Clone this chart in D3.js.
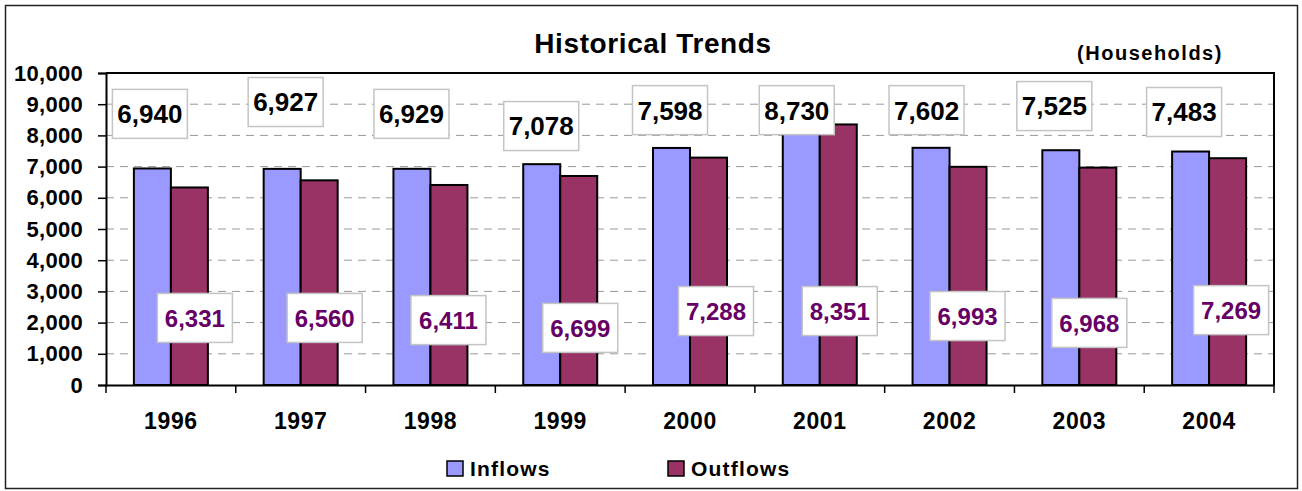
<!DOCTYPE html>
<html>
<head>
<meta charset="utf-8">
<script src="https://cdn.jsdelivr.net/npm/d3@7.9.0/dist/d3.min.js"></script>
<style>
  html, body { margin: 0; padding: 0; background: #fff; }
  svg { display: block; font-family: 'Liberation Sans', Arial, sans-serif; }
</style>
</head>
<body>
<div id="chart"></div>
<script>
const years = ['1996', '1997', '1998', '1999', '2000', '2001', '2002', '2003', '2004'];
const inflows = [6940, 6927, 6929, 7078, 7598, 8730, 7602, 7525, 7483];
const outflows = [6331, 6560, 6411, 6699, 7288, 8351, 6993, 6968, 7269];
const yTicks = [0, 1000, 2000, 3000, 4000, 5000, 6000, 7000, 8000, 9000, 10000];
const seriesNames = ['Inflows', 'Outflows'];

// where Excel left the dragged data labels: value height + px shift from category centre
const inLabelY = [8690, 9070, 8690, 8300, 8810, 8810, 8810, 8940, 8750];
const inLabelDx = [-21, -15, -19, -19, -20, -23, -23, -25, -25];
const outLabelY = [2150, 2150, 2080, 1830, 2370, 2370, 2210, 1990, 2400];
const outLabelDx = [24, 24, 18, 20, 26, 20, 18, 10, 22];

const width = 1302, height = 491;
const plot = { left: 106, right: 1274, top: 73, bottom: 385 };
const colors = { Inflows: '#9999ff', Outflows: '#993366' };
const font = "'Liberation Sans', Arial, sans-serif";

const svg = d3.select('#chart').append('svg')
  .attr('width', width)
  .attr('height', height);

// outer frame
svg.append('rect')
  .attr('x', 5.5).attr('y', 5.5)
  .attr('width', 1292).attr('height', 483)
  .attr('fill', '#fff')
  .attr('stroke', '#222').attr('stroke-width', 1.5);

const x0 = d3.scaleBand().domain(years).range([plot.left, plot.right]);
const bw = x0.bandwidth();
const barW = 37;
const x1 = d3.scaleBand().domain(seriesNames).range([bw / 2 - barW, bw / 2 + barW]);
const y = d3.scaleLinear().domain([0, 10000]).range([plot.bottom, plot.top]);

// gridlines
svg.append('g')
  .selectAll('line')
  .data(yTicks.filter(t => t > 0 && t < 10000))
  .join('line')
  .attr('x1', plot.left).attr('x2', plot.right)
  .attr('y1', d => y(d)).attr('y2', d => y(d))
  .attr('stroke', '#999').attr('stroke-width', 1)
  .attr('stroke-dasharray', '8,6');

// plot border top/right
svg.append('path')
  .attr('d', `M${plot.left},${plot.top}H${plot.right}V${plot.bottom}`)
  .attr('fill', 'none').attr('stroke', '#000').attr('stroke-width', 2);

// bars
const rows = years.map((yr, i) => ({ year: yr, Inflows: inflows[i], Outflows: outflows[i] }));
const groups = svg.append('g').selectAll('g')
  .data(rows)
  .join('g')
  .attr('transform', d => `translate(${x0(d.year)},0)`);

groups.selectAll('rect')
  .data(d => seriesNames.map(k => ({ key: k, value: d[k] })))
  .join('rect')
  .attr('x', d => x1(d.key))
  .attr('y', d => y(d.value))
  .attr('width', x1.bandwidth())
  .attr('height', d => y(0) - y(d.value))
  .attr('fill', d => colors[d.key])
  .attr('stroke', '#000').attr('stroke-width', 2);

// y axis
const yAxis = svg.append('g')
  .attr('transform', `translate(${plot.left},0)`)
  .call(d3.axisLeft(y).tickValues(yTicks).tickSize(8).tickPadding(15)
    .tickFormat(d3.format(',')));
yAxis.select('.domain').attr('stroke', '#000').attr('stroke-width', 2);
yAxis.selectAll('.tick line').attr('stroke', '#000').attr('stroke-width', 1.5);
yAxis.selectAll('.tick text')
  .attr('font-size', 22).attr('font-weight', 'bold').attr('fill', '#000')
  .attr('letter-spacing', 0.3)
  .attr('font-family', font);

// x axis
const xAxis = svg.append('g')
  .attr('transform', `translate(0,${plot.bottom})`)
  .call(d3.axisBottom(x0).tickSize(0));
xAxis.select('.domain').attr('stroke', '#000').attr('stroke-width', 2);
xAxis.selectAll('.tick text')
  .attr('y', 44).attr('dy', 0)
  .attr('font-size', 23).attr('font-weight', 'bold').attr('fill', '#000')
  .attr('letter-spacing', 0.6)
  .attr('font-family', font);
// category separator ticks
xAxis.append('g').selectAll('line')
  .data(years.concat(['end']))
  .join('line')
  .attr('x1', (d, i) => plot.left + i * bw).attr('x2', (d, i) => plot.left + i * bw)
  .attr('y1', 0).attr('y2', 8)
  .attr('stroke', '#000').attr('stroke-width', 1.5);

// data labels
function drawLabels(values, ys, dxs, color, size) {
  const g = svg.append('g').selectAll('g')
    .data(values)
    .join('g')
    .attr('transform', (d, i) =>
      `translate(${x0(years[i]) + bw / 2 + dxs[i]},${y(ys[i])})`);
  g.append('rect')
    .attr('x', -37.5).attr('y', -24.5)
    .attr('width', 75).attr('height', 49)
    .attr('fill', '#fff')
    .attr('stroke', '#c4c4c4').attr('stroke-width', 1.5);
  g.append('text')
    .attr('text-anchor', 'middle')
    .attr('dy', '0.36em')
    .attr('font-size', size).attr('font-weight', 'bold')
    .attr('fill', color)
    .text(d => d3.format(',')(d));
}
drawLabels(inflows, inLabelY, inLabelDx, '#000', 26);
drawLabels(outflows, outLabelY, outLabelDx, '#660066', 24);

// titles
svg.append('text')
  .attr('x', 653).attr('y', 53)
  .attr('text-anchor', 'middle')
  .attr('font-size', 28).attr('font-weight', 'bold')
  .attr('letter-spacing', 0.6)
  .text('Historical Trends');
svg.append('text')
  .attr('x', 1150).attr('y', 60)
  .attr('text-anchor', 'middle')
  .attr('font-size', 20).attr('font-weight', 'bold')
  .attr('letter-spacing', 1.5)
  .text('(Households)');

// legend
const legendX = [447, 668];
const legend = svg.append('g').selectAll('g')
  .data(seriesNames)
  .join('g')
  .attr('transform', (d, i) => `translate(${legendX[i]},461)`);
legend.append('rect')
  .attr('width', 16).attr('height', 15)
  .attr('fill', d => colors[d])
  .attr('stroke', '#000').attr('stroke-width', 1.5);
legend.append('text')
  .attr('x', 23).attr('y', 15)
  .attr('font-size', 21).attr('font-weight', 'bold')
  .attr('letter-spacing', 1.2)
  .text(d => d);
</script>
</body>
</html>
